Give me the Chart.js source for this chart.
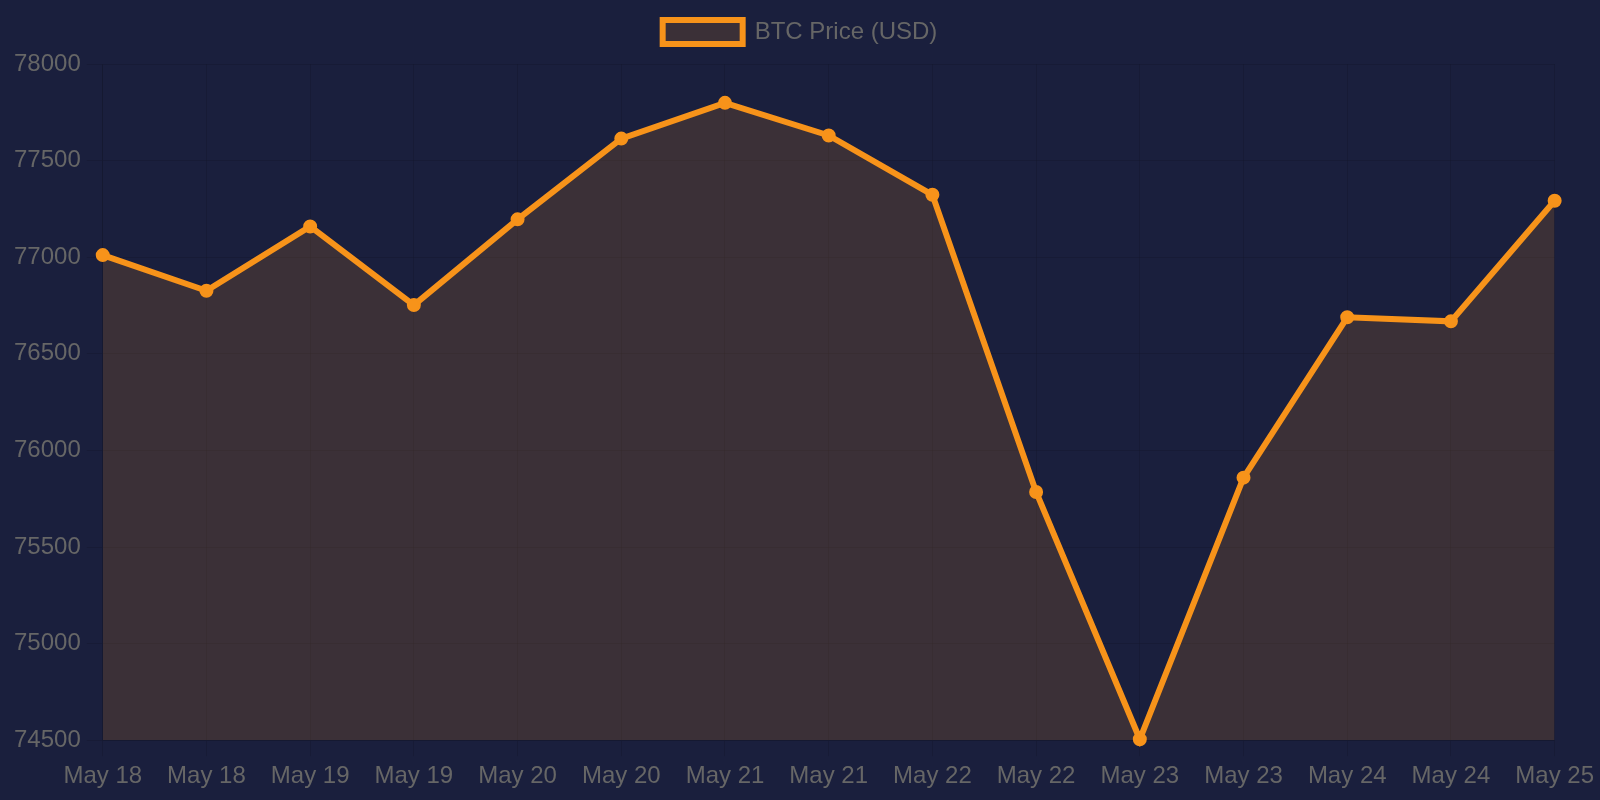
<!DOCTYPE html>
<html lang="en">
<head>
  <meta charset="UTF-8">
  <title>BTC Price</title>
  <script src="https://cdn.jsdelivr.net/npm/chart.js"></script>
  <style>
    html, body { margin: 0; padding: 0; background: #1a1f3d; }
    #wrap { width: 1600px; height: 800px; }
  </style>
</head>
<body>
  <div id="wrap"><canvas id="btcChart"></canvas></div>
  <script>
    const labels = ['May 18', 'May 18', 'May 19', 'May 19', 'May 20', 'May 20', 'May 21', 'May 21',
                    'May 22', 'May 22', 'May 23', 'May 23', 'May 24', 'May 24', 'May 25'];
    const prices = [77011, 76826, 77159, 76752, 77196, 77614, 77799, 77630,
                    77323, 75785, 74505, 75859, 76689, 76668, 77292];

    Chart.defaults.font.size = 24;
    Chart.defaults.color = '#666';

    // a bit of room between legend and plot
    const legendGap = {
      id: 'legendGap',
      beforeInit(chart) {
        const fit = chart.legend.fit;
        chart.legend.fit = function () {
          fit.bind(chart.legend)();
          this.height += 10;
        };
      }
    };

    const ctx = document.getElementById('btcChart').getContext('2d');
    new Chart(ctx, {
      type: 'line',
      data: {
        labels: labels,
        datasets: [{
          label: 'BTC Price (USD)',
          data: prices,
          borderColor: '#f7931a',
          backgroundColor: 'rgba(247, 147, 26, 0.15)',
          pointBackgroundColor: '#f7931a',
          borderWidth: 6,
          pointRadius: 6,
          pointBorderWidth: 2,
          fill: true,
          tension: 0
        }]
      },
      options: {
        responsive: true,
        maintainAspectRatio: false,
        animation: false,
        layout: { padding: { left: 8, right: 8, bottom: 3 } },
        plugins: {
          legend: {
            labels: { boxWidth: 80, padding: 20 }
          },
          tooltip: { enabled: false }
        },
        scales: {
          x: {
            grid: { tickLength: 16 },
            ticks: { maxRotation: 0, autoSkip: false, padding: 6 }
          },
          y: {
            grid: { tickLength: 16 },
            ticks: { padding: 6, callback: v => String(v) }
          }
        }
      },
      plugins: [legendGap]
    });
  </script>
</body>
</html>
